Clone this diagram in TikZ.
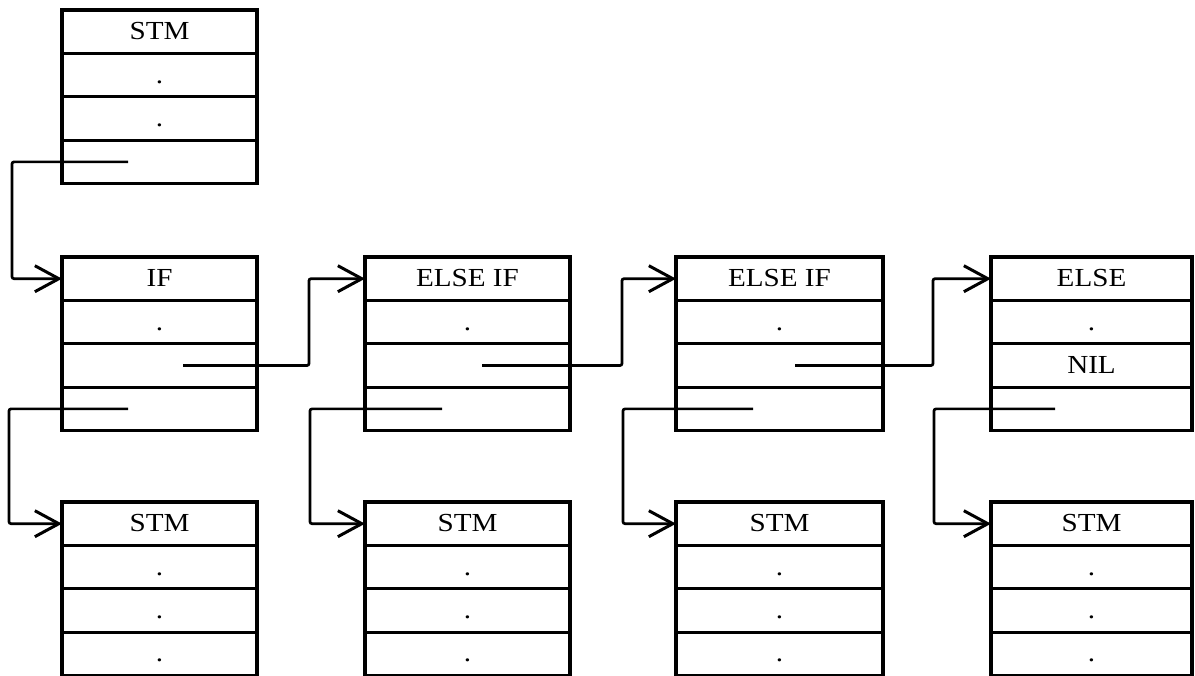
\documentclass[tikz,border=0pt]{standalone}
\usepackage{fontspec}
\setmainfont{Liberation Serif}
\newfontfamily\lblfont[FakeStretch=1.12]{Liberation Serif}
\usetikzlibrary{arrows.meta}
\tikzset{
  rowbox/.style={draw, line width=3.2pt, rectangle, inner sep=0pt, outer sep=0pt,
    minimum height=43.4pt, font=\lblfont\fontsize{26}{30}\selectfont,
    text height=20pt, text depth=4pt},
  conn/.style={line width=2.7pt, rounded corners=2pt,
    -{Straight Barb[length=24pt,width=26pt,line width=3pt]}}
}
\newcommand{\recbox}[8]{%
  \node[rowbox, minimum width=#4pt, anchor=north west] (#11) at (#2,#3) {#5};
  \node[rowbox, minimum width=#4pt, anchor=north] (#12) at (#11.south) {#6};
  \node[rowbox, minimum width=#4pt, anchor=north] (#13) at (#12.south) {#7};
  \node[rowbox, minimum width=#4pt, anchor=north] (#14) at (#13.south) {#8};
}
\begin{document}
\begin{tikzpicture}[x=1pt,y=-1pt]
\useasboundingbox (0,0) rectangle (1195,676);
% top record
\recbox{t}{62}{10}{195}{STM}{.}{.}{}
% middle records
\recbox{a}{62}{257}{195}{IF}{.}{}{}
\recbox{b}{365}{257}{205}{ELSE IF}{.}{}{}
\recbox{c}{676}{257}{207}{ELSE IF}{.}{}{}
\recbox{d}{991}{257}{201}{ELSE}{.}{NIL}{}
% bottom records
\recbox{p}{62}{502}{195}{STM}{.}{.}{.}
\recbox{q}{365}{502}{205}{STM}{.}{.}{.}
\recbox{r}{676}{502}{207}{STM}{.}{.}{.}
\recbox{s}{991}{502}{201}{STM}{.}{.}{.}
% pointer start coordinates
\coordinate (st4) at ([xshift=66pt]t4.west);
\coordinate (sa3) at ([xshift=121pt]a3.west);
\coordinate (sa4) at ([xshift=66pt]a4.west);
\coordinate (sb3) at ([xshift=117pt]b3.west);
\coordinate (sb4) at ([xshift=77pt]b4.west);
\coordinate (sc3) at ([xshift=119pt]c3.west);
\coordinate (sc4) at ([xshift=77pt]c4.west);
\coordinate (sd4) at ([xshift=64pt]d4.west);
% connectors
\draw[conn] (st4) -- ([xshift=-50pt]t4.west) |- (a1.west);
\draw[conn] (sa4) -- ([xshift=-53pt]a4.west) |- (p1.west);
\draw[conn] (sa3) -- ([xshift=52pt]a3.east) |- (b1.west);
\draw[conn] (sb4) -- ([xshift=-55pt]b4.west) |- (q1.west);
\draw[conn] (sb3) -- ([xshift=52pt]b3.east) |- (c1.west);
\draw[conn] (sc4) -- ([xshift=-53pt]c4.west) |- (r1.west);
\draw[conn] (sc3) -- ([xshift=50pt]c3.east) |- (d1.west);
\draw[conn] (sd4) -- ([xshift=-57pt]d4.west) |- (s1.west);
\end{tikzpicture}
\end{document}
